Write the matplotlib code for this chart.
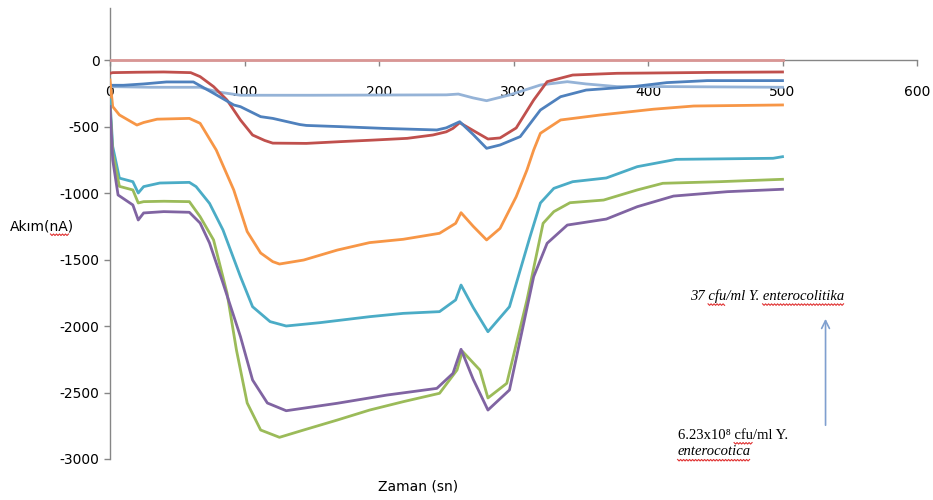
import numpy as np
import matplotlib
matplotlib.use('Agg')
import matplotlib.pyplot as plt
from matplotlib.lines import Line2D
from matplotlib.transforms import IdentityTransform

plt.rcParams['axes.unicode_minus'] = False

# Zaman (sn) / Akım (nA) okumaları
t_pink = [0, 500]
y_pink = [0, 0]

t_red = [0, 2, 20, 40, 60, 67, 77, 87, 97, 106, 115, 121, 146, 171, 196, 221, 240, 250,
         255, 260, 270, 281, 290, 302, 315, 325, 344, 377, 400, 448, 500]
y_red = [-100, -95, -92, -90, -95, -125, -200, -301, -451, -564, -605, -625, -627, -614, -602,
         -589, -564, -540, -514, -471, -530, -594, -586, -511, -301, -163, -113, -100, -98, -93, -90]

t_blue = [0, 10, 25, 42, 62, 77, 92, 97, 112, 121, 141, 146, 171, 203, 243, 250, 260, 270,
          280, 290, 305, 320, 335, 354, 389, 414, 444, 500]
y_blue = [-190, -190, -180, -165, -165, -250, -338, -351, -426, -439, -485, -492, -501, -514,
          -526, -510, -464, -560, -664, -639, -576, -376, -276, -226, -200, -170, -155, -155]

t_lblue = [0, 30, 67, 80, 97, 150, 250, 259, 270, 280, 297, 320, 340, 354, 377, 414, 500]
y_lblue = [-200, -205, -205, -240, -265, -265, -262, -256, -285, -306, -263, -188, -163, -180,
           -200, -200, -205]

t_orange = [0, 2, 7, 15, 20, 25, 35, 59, 67, 79, 92, 102, 112, 121, 126, 144, 169, 193, 218,
            245, 257, 261, 270, 280, 290, 302, 310, 315, 320, 335, 364, 404, 434, 500]
y_orange = [-150, -350, -413, -460, -489, -470, -445, -439, -476, -677, -977, -1290, -1451,
            -1516, -1534, -1504, -1429, -1373, -1348, -1303, -1228, -1148, -1250, -1353, -1266,
            -1028, -827, -677, -551, -451, -414, -370, -346, -338]

t_teal = [0, 2, 7, 17, 21, 25, 37, 59, 64, 74, 84, 97, 106, 119, 131, 156, 193, 218, 245, 257,
          261, 270, 281, 297, 312, 320, 330, 344, 369, 392, 421, 493, 500]
y_teal = [-300, -650, -888, -915, -1000, -952, -925, -920, -952, -1078, -1278, -1629, -1855,
          -1967, -2000, -1975, -1930, -1905, -1892, -1804, -1692, -1860, -2043, -1855, -1338,
          -1075, -965, -915, -887, -802, -747, -739, -727]

t_green = [0, 2, 7, 17, 21, 25, 40, 59, 67, 77, 87, 94, 102, 112, 126, 144, 169, 193, 218, 245,
           258, 262, 275, 281, 295, 310, 322, 330, 342, 367, 392, 411, 453, 500]
y_green = [-350, -700, -950, -977, -1075, -1065, -1062, -1065, -1178, -1353, -1752, -2180,
           -2579, -2782, -2837, -2782, -2707, -2632, -2569, -2506, -2331, -2190, -2331, -2541,
           -2431, -1805, -1228, -1140, -1073, -1053, -977, -927, -915, -897]

t_purple = [0, 2, 6, 17, 21, 25, 40, 59, 67, 74, 84, 97, 106, 117, 131, 169, 206, 243, 255, 261,
            270, 281, 297, 315, 325, 340, 369, 392, 419, 459, 500]
y_purple = [-350, -750, -1015, -1090, -1203, -1150, -1140, -1145, -1226, -1376, -1677, -2080,
            -2406, -2579, -2637, -2581, -2519, -2469, -2356, -2175, -2400, -2632, -2481, -1629,
            -1378, -1241, -1196, -1103, -1023, -990, -972]

x_ticks = [0, 100, 200, 300, 400, 500, 600]
y_ticks = [0, -500, -1000, -1500, -2000, -2500, -3000]

series = [
    (t_lblue, y_lblue, '#95B3D7'),
    (t_red, y_red, '#C0504D'),
    (t_blue, y_blue, '#4F81BD'),
    (t_orange, y_orange, '#F79646'),
    (t_teal, y_teal, '#4BACC6'),
    (t_green, y_green, '#9BBB59'),
    (t_purple, y_purple, '#8064A2'),
    (t_pink, y_pink, '#D99694'),
]

fig = plt.figure(figsize=(9.33, 5.0), dpi=100)
ax = fig.add_axes([110 / 933, 1 - 459 / 500, 807 / 933, 451 / 500])

for t, y, c in series:
    ax.plot(t, y, color=c, lw=2.0, solid_joinstyle='round', zorder=3)

ax.set_xlim(0, 600)
ax.set_ylim(-3000, 391)
ax.set_xticks(x_ticks)
ax.set_yticks(y_ticks)

for side in ['top', 'right']:
    ax.spines[side].set_visible(False)
ax.spines['bottom'].set_position(('data', 0))
for side in ['left', 'bottom']:
    ax.spines[side].set_color('#868686')
    ax.spines[side].set_linewidth(1)
ax.tick_params(axis='both', colors='#868686', labelcolor='black', labelsize=10,
               length=4, width=1, direction='out')
ax.tick_params(axis='x', pad=14)

ylab = fig.text(10 / 933, 1 - 226 / 500, 'Akım(nA)', fontsize=10, ha='left', va='center')
fig.text(418 / 933, 1 - 487 / 500, 'Zaman (sn)', fontsize=10, ha='center', va='center')

serif = ['Liberation Serif', 'DejaVu Serif']
note1 = ax.text(431, -1774, '37 cfu/ml Y. enterocolitika', family=serif, style='italic',
                fontsize=10.5, ha='left', va='center')
note2 = ax.text(422, -2820, '6.23x10⁸ cfu/ml Y.', family=serif, fontsize=10.5,
                ha='left', va='center')
note3 = ax.text(422, -2947, 'enterocotica', family=serif, style='italic', fontsize=10.5,
                ha='left', va='center')
ax.annotate('', xy=(532, -1925), xytext=(532, -2767),
            arrowprops=dict(arrowstyle='->', color='#7F9FCF', lw=1.2, mutation_scale=14))

# kırmızı yazım denetimi dalgaları
fig.canvas.draw()
renderer = fig.canvas.get_renderer()


def squiggle(txt, prefix, word):
    fp = txt.get_fontproperties()
    bb = txt.get_window_extent(renderer)
    w0 = renderer.get_text_width_height_descent(prefix, fp, ismath=False)[0] if prefix else 0
    w1 = renderer.get_text_width_height_descent(prefix + word, fp, ismath=False)[0]
    xs = np.arange(bb.x0 + w0, bb.x0 + w1, 1.5)
    ys = bb.y0 - 1 - 1.5 * (np.arange(len(xs)) % 2)
    fig.add_artist(Line2D(xs, ys, color='#E03030', lw=0.8, transform=IdentityTransform()))


squiggle(ylab, 'Akım(', 'nA')
squiggle(note1, '37 ', 'cfu')
squiggle(note1, '37 cfu/ml Y. ', 'enterocolitika')
squiggle(note2, '6.23x10⁸ ', 'cfu')
squiggle(note3, '', 'enterocotica')

fig.savefig('out.png', dpi=100)
